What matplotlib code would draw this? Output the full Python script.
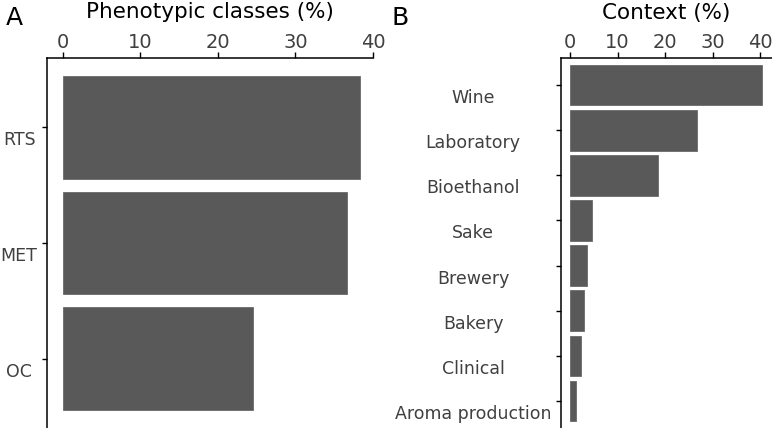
import matplotlib
matplotlib.use("Agg")
import matplotlib.pyplot as plt
from matplotlib.transforms import ScaledTranslation

plt.rcParams['font.family'] = ['DejaVu Sans']

# panel A data
classes = ["RTS", "MET", "OC"]
class_pct = [38.3, 36.6, 24.6]

# panel B data
contexts = ["Wine", "Laboratory", "Bioethanol", "Sake", "Brewery",
            "Bakery", "Clinical", "Aroma production"]
context_pct = [40.4, 26.7, 18.4, 4.6, 3.6, 2.9, 2.3, 1.3]

BAR = "#595959"
TXT = "#404040"
DPI = 100

fig = plt.figure(figsize=(7.72, 4.28), dpi=DPI)
axA = fig.add_axes([47 / 772, 0, 326 / 772, 1 - 58 / 428])
axB = fig.add_axes([560.7 / 772, 0, 211.3 / 772, 1 - 58 / 428])


def style(ax, labels, values, xmax, ypad, height):
    n = len(labels)
    ax.barh(range(n), values, height=height, color=BAR, edgecolor="#6a6a6a",
            linewidth=0.6)
    ax.set_ylim(n - 0.4, -0.6)
    ax.set_xlim(-2, xmax)
    ax.set_xticks([0, 10, 20, 30, 40])
    ax.xaxis.tick_top()
    for s in ("right", "bottom"):
        ax.spines[s].set_visible(False)
    for s in ("left", "top"):
        ax.spines[s].set_linewidth(1.1)
    ax.tick_params(axis="x", length=4, width=1, pad=0.5, labelsize=14,
                   labelcolor=TXT)
    ax.tick_params(axis="y", length=3.5, width=1, pad=ypad, labelsize=12.5,
                   labelcolor=TXT)
    ax.set_yticks(range(n), labels)
    off = ScaledTranslation(0, -18 / DPI, fig.dpi_scale_trans)
    for lbl in ax.get_yticklabels():
        lbl.set_horizontalalignment("center")
        lbl.set_verticalalignment("baseline")
        lbl.set_transform(lbl.get_transform() + off)


style(axA, classes, class_pct, 40, 16.6, 0.89)
style(axB, contexts, context_pct, 42.5, 59.6, 0.9)

axA.spines["top"].set_bounds(-2, 40)

fig.text(210 / 772, 1 - 18.5 / 428, "Phenotypic classes (%)", ha="center",
         va="baseline", fontsize=15.5, color="black")
fig.text(666.5 / 772, 1 - 18.5 / 428, "Context (%)", ha="center",
         va="baseline", fontsize=15.5, color="black")
fig.text(6 / 772, 1 - 25 / 428, "A", fontsize=18, va="baseline")
fig.text(391 / 772, 1 - 25 / 428, "B", fontsize=18, va="baseline")

fig.savefig("out.png", dpi=DPI)
